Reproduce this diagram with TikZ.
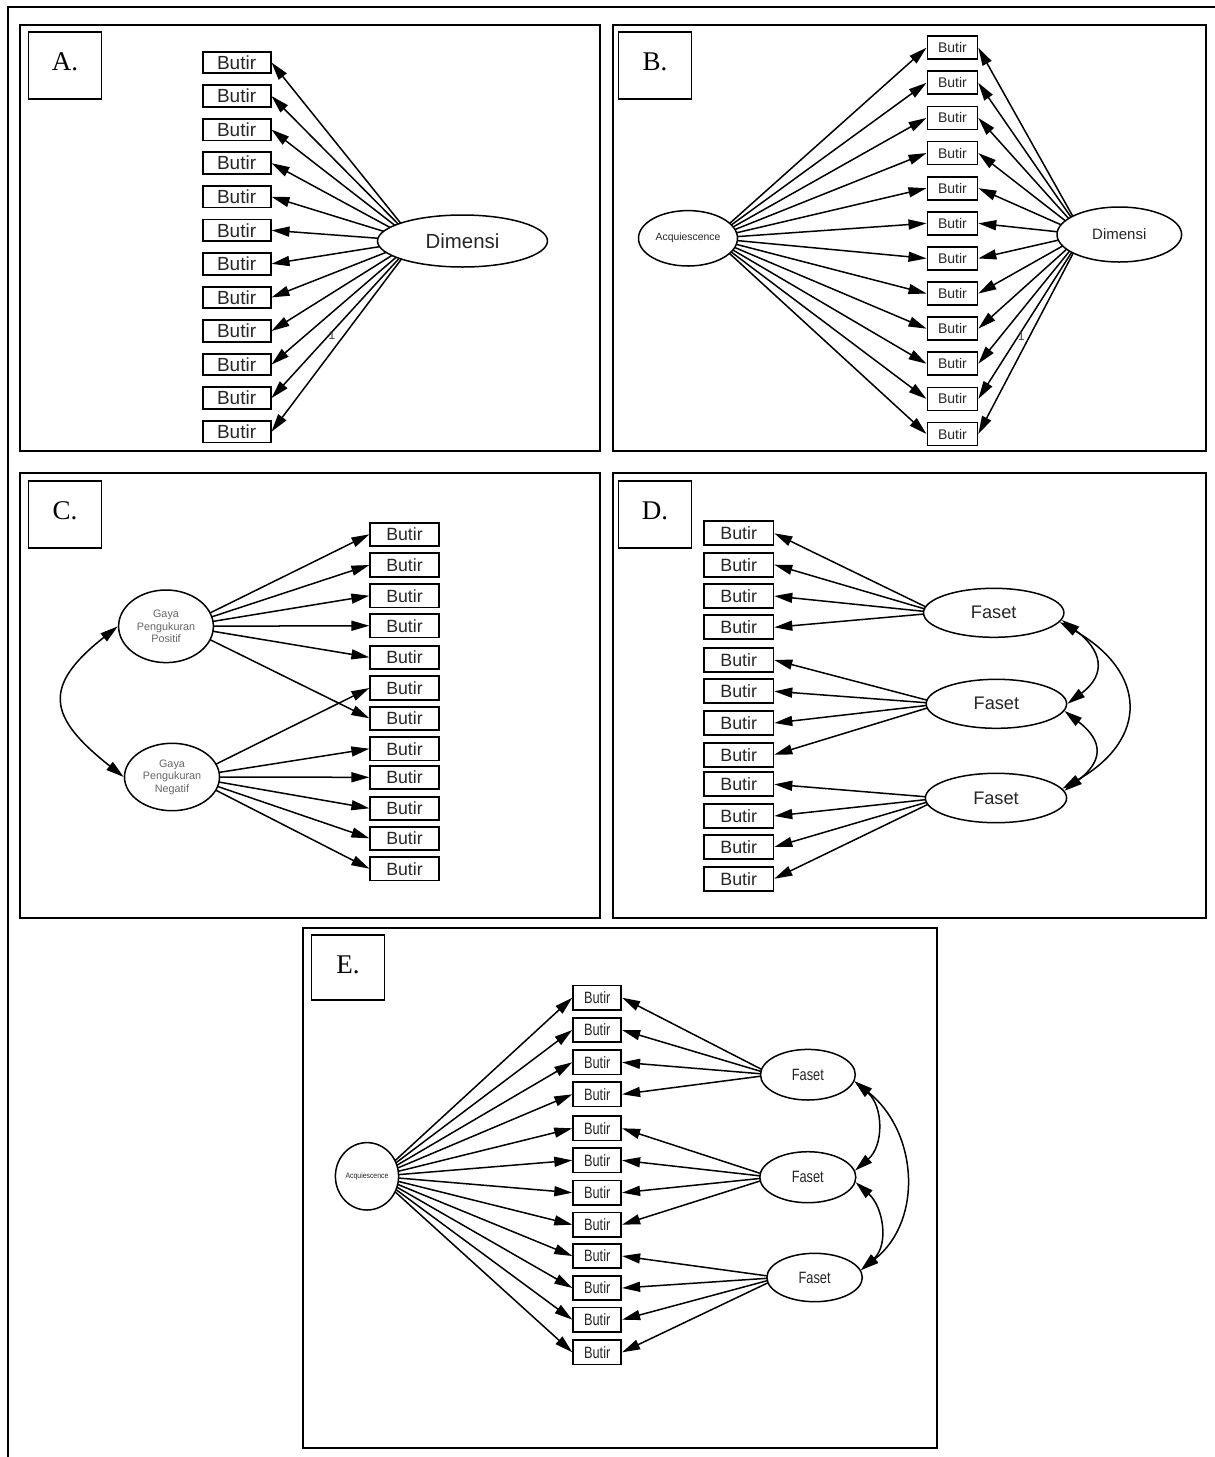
\documentclass[tikz,border=0pt]{standalone}
\usepackage{fontspec}
\setmainfont{Liberation Serif}
\setsansfont{Liberation Sans}
\usepackage{graphicx}
\usetikzlibrary{shapes.geometric,arrows.meta}
\tikzstyle{line} = [draw, line width=0.75pt, -{Triangle[length=9pt,width=5pt]}]
\tikzstyle{dline} = [draw, line width=0.75pt, {Triangle[length=9pt,width=5pt]}-{Triangle[length=9pt,width=5pt]}]
\tikzstyle{panel} = [draw, line width=1pt]
\tikzstyle{tag} = [rectangle, draw, line width=0.8pt, minimum width=36.5pt, minimum height=33.5pt, text depth=3.3pt, font=\fontsize{13.5}{15}\selectfont]
\tikzstyle{butir} = [rectangle, draw, line width=0.9pt, inner sep=0pt, text=black!85]
\tikzstyle{laten} = [ellipse, draw, line width=0.75pt, inner sep=0pt, fill=white, text=black!85]
\tikzstyle{fixlabel} = [font=\sffamily\fontsize{6}{6}\selectfont, text=black!75, inner sep=0pt]
\newcommand{\pipih}[1]{\scalebox{0.78}[1]{#1}}

\begin{document}
\begin{tikzpicture}[x=0.5pt, y=-0.5pt]
        \useasboundingbox (0,0) rectangle (1215,1457);
        \draw [line width=1.3pt] (8,1457) -- (8,7) -- (1215,7);

        % A.
        \draw [panel] (20,25) rectangle (600,451);
        \node (TA) [tag] at (65,65.3) {A.};
        \foreach \i [evaluate=\i as \y using 62.5+(\i-1)*33.56] in {1,...,12}
            \node (BA\i) [butir, minimum width=34pt, minimum height=10.8pt, font=\sffamily\fontsize{9.5}{10}\selectfont] at (236.6,\y) {Butir};
        \coordinate (hDimA) at (415,241);
        \foreach \i in {1,...,10,12}
            \path [line] (hDimA) -- (BA\i.east);
        \path [line] (hDimA) -- node [fixlabel, pos=0.6, xshift=1.5pt] {1} (BA11.east);
        \node (DimA) [laten, minimum width=85pt, minimum height=26pt, font=\sffamily\fontsize{10.2}{11}\selectfont] at (462.5,241) {Dimensi};

        % B.
        \draw [panel] (612.5,25) rectangle (1206,451);
        \node (TB) [tag] at (655,65.3) {B.};
        \foreach \i [evaluate=\i as \y using 47.7+(\i-1)*35.12] in {1,...,12}
            \node (BB\i) [butir, minimum width=25pt, minimum height=11.5pt, font=\sffamily\fontsize{7}{8}\selectfont] at (952.4,\y) {Butir};
        \coordinate (hAcqB) at (713,238.3);
        \coordinate (hDimB) at (1083,234.5);
        \foreach \i in {1,...,12}
            \path [line] (hAcqB) -- (BB\i.west);
        \foreach \i in {1,...,10,12}
            \path [line] (hDimB) -- (BB\i.east);
        \path [line] (hDimB) -- node [fixlabel, pos=0.62, xshift=1.5pt] {1} (BB11.east);
        \node (AcqB) [laten, minimum width=49.5pt, minimum height=27.7pt, font=\sffamily\fontsize{5.2}{6}\selectfont] at (688,238.3) {Acquiescence};
        \node (DimB) [laten, minimum width=62.3pt, minimum height=27.5pt, font=\sffamily\fontsize{7.5}{8}\selectfont] at (1119.3,234.5) {Dimensi};

        % C.
        \draw [panel] (20,472.7) rectangle (600,918.3);
        \node (TC) [tag] at (65,514.2) {C.};
        \foreach \i/\y in {1/534.3,2/565,3/595.7,4/625.7,5/657.3,6/688,7/718.3,8/748.7,9/777.3,10/808.3,11/838.3,12/868.7}
            \node (BC\i) [butir, minimum width=34.2pt, minimum height=11.7pt, font=\sffamily\fontsize{8.85}{9}\selectfont] at (404.5,\y) {Butir};
        \coordinate (hPos) at (183,626.3);
        \coordinate (hNeg) at (190,777);
        \foreach \i in {1,2,3,4,5,7}
            \path [line] (hPos) -- (BC\i.west);
        \foreach \i in {6,8,9,10,11,12}
            \path [line] (hNeg) -- (BC\i.west);
        \node (Pos) [laten, minimum width=47.4pt, minimum height=36.3pt, align=center, text=black!60, font=\sffamily\fontsize{5.4}{6.3}\selectfont] at (166,626.3) {Gaya\\Pengukuran\\Positif};
        \node (Neg) [laten, minimum width=47.5pt, minimum height=33.7pt, align=center, text=black!60, font=\sffamily\fontsize{5.4}{6.3}\selectfont] at (172,777) {Gaya\\Pengukuran\\Negatif};
        \path [dline] (Pos.west) .. controls +(-76,60) and +(-76,-60) .. (Neg.west);

        % D.
        \draw [panel] (612.5,472.7) rectangle (1206,918.3);
        \node (TD) [tag] at (655,514.2) {D.};
        \foreach \i/\y in {1/533.3,2/564.7,3/596,4/627.3,5/660,6/691.3,7/723,8/754.7,9/784.3,10/816,11/847,12/878.7}
            \node (BD\i) [butir, minimum width=34.7pt, minimum height=12pt, font=\sffamily\fontsize{8.9}{9}\selectfont] at (738.7,\y) {Butir};
        \coordinate (hFD1) at (938,612.8);
        \coordinate (hFD2) at (941,703.8);
        \coordinate (hFD3) at (941,798);
        \foreach \i in {1,...,4}
            \path [line] (hFD1) -- (BD\i.east);
        \foreach \i in {5,...,8}
            \path [line] (hFD2) -- (BD\i.east);
        \foreach \i in {9,...,12}
            \path [line] (hFD3) -- (BD\i.east);
        \node (FD1) [laten, minimum width=70.2pt, minimum height=24.5pt, font=\sffamily\fontsize{9.1}{10}\selectfont] at (993.7,612.8) {Faset};
        \node (FD2) [laten, minimum width=70.2pt, minimum height=24.5pt, font=\sffamily\fontsize{9.1}{10}\selectfont] at (996.4,703.8) {Faset};
        \node (FD3) [laten, minimum width=70.6pt, minimum height=24.7pt, font=\sffamily\fontsize{9.1}{10}\selectfont] at (996,798) {Faset};
        \path [dline] (FD1.-6) .. controls +(40,30) and +(40,-30) .. (FD2.0);
        \path [dline] (FD2.-6) .. controls +(39,30) and +(39,-30) .. (FD3.6);
        \path [dline] (FD1.-8) .. controls +(87,50) and +(87,-50) .. (FD3.8);

        % E.
        \draw [panel] (302.6,928.3) rectangle (937,1448);
        \node (TE) [tag, minimum height=32.5pt] at (347.9,967.5) {E.};
        \foreach \i/\y in {1/997.7,2/1030,3/1062.3,4/1094.3,5/1128.3,6/1160.3,7/1192.7,8/1224.7,9/1256,10/1288,11/1319.7,12/1352.3}
            \node (BE\i) [butir, minimum width=24pt, minimum height=12.2pt, font=\sffamily\fontsize{8.2}{9}\selectfont] at (597.2,\y) {\pipih{Butir}};
        \coordinate (hAcqE) at (378,1176.3);
        \coordinate (hFE1) at (772,1074.7);
        \coordinate (hFE2) at (772,1177.2);
        \coordinate (hFE3) at (779,1277.5);
        \foreach \i in {1,...,12}
            \path [line] (hAcqE) -- (BE\i.west);
        \foreach \i in {1,...,4}
            \path [line] (hFE1) -- (BE\i.east);
        \foreach \i in {5,...,8}
            \path [line] (hFE2) -- (BE\i.east);
        \foreach \i in {9,...,12}
            \path [line] (hFE3) -- (BE\i.east);
        \node (AcqE) [laten, minimum width=31.6pt, minimum height=33.7pt, font=\sffamily\fontsize{4}{5}\selectfont] at (367,1176.3) {\scalebox{0.86}[1]{Acquiescence}};
        \node (FE1) [laten, minimum width=47.4pt, minimum height=25.3pt, font=\sffamily\fontsize{8.2}{9}\selectfont] at (807.9,1074.7) {\pipih{Faset}};
        \node (FE2) [laten, minimum width=48pt, minimum height=25.5pt, font=\sffamily\fontsize{8.2}{9}\selectfont] at (807.8,1177.2) {\pipih{Faset}};
        \node (FE3) [laten, minimum width=47.7pt, minimum height=24.2pt, font=\sffamily\fontsize{8.2}{9}\selectfont] at (814.6,1277.5) {\pipih{Faset}};
        \path [dline] (FE1.-8) .. controls +(29,25) and +(29,-25) .. (FE2.8);
        \path [dline] (FE2.-6) .. controls +(28,25) and +(28,-25) .. (FE3.9);
        \path [dline] (FE1.-8) .. controls +(63,50) and +(63,-50) .. (FE3.9);

\end{tikzpicture}
\end{document}
